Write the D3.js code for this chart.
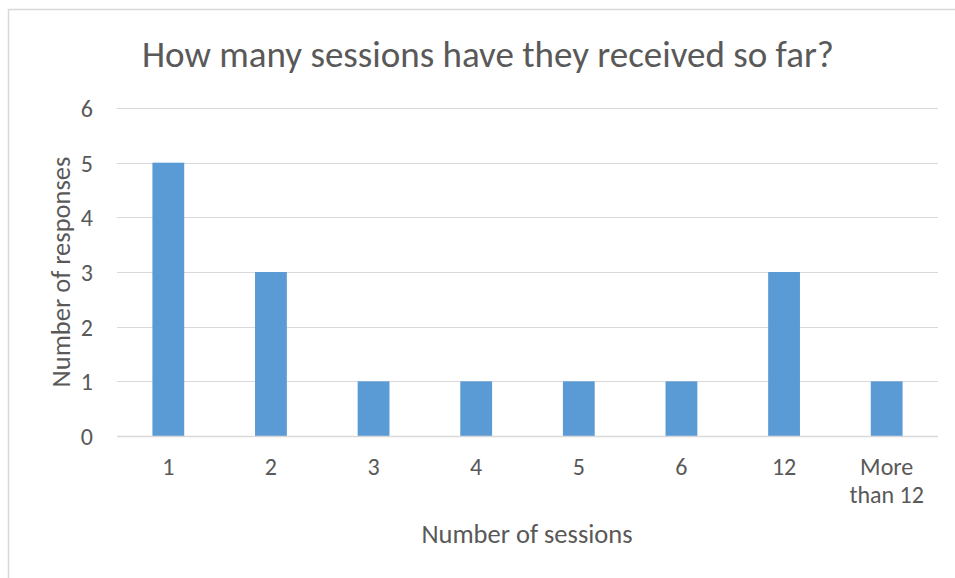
<!DOCTYPE html>
<html>
<head>
<meta charset="utf-8">
<script src="https://cdn.jsdelivr.net/npm/d3@7"></script>
<style>
  html, body { margin: 0; padding: 0; background: #fff; }
  svg { display: block; }
  text { font-family: Carlito, Calibri, "Open Sans", "Noto Sans", sans-serif; fill: #595959; }
</style>
</head>
<body>
<svg id="chart" width="955" height="578"></svg>
<script>
const categories = ["1", "2", "3", "4", "5", "6", "12", "More than 12"];
const responses = [5, 3, 1, 1, 1, 1, 3, 1];
const yTicks = [0, 1, 2, 3, 4, 5, 6];
const chartTitle = "How many sessions have they received so far?";
const xTitle = "Number of sessions";
const yTitle = "Number of responses";

const svg = d3.select("#chart");
const W = 955, H = 578;
const plot = { left: 117, right: 938, top: 108, bottom: 436 };
const FONT = "Carlito, Calibri, 'Open Sans', sans-serif";

// chart frame
svg.append("rect")
  .attr("x", 8.5).attr("y", 9.5)
  .attr("width", W + 10).attr("height", H + 10)
  .attr("fill", "#fff").attr("stroke", "#d9d9d9").attr("stroke-width", 1.5);

const x = d3.scaleBand().domain(categories).range([plot.left, plot.right]).paddingInner(0.69).paddingOuter(0.345);
const y = d3.scaleLinear().domain([0, 6]).range([plot.bottom, plot.top]);

// horizontal gridlines
svg.append("g").selectAll("line").data(yTicks.filter(d => d > 0)).join("line")
  .attr("x1", plot.left).attr("x2", plot.right)
  .attr("y1", d => Math.round(y(d)) + 0.5).attr("y2", d => Math.round(y(d)) + 0.5)
  .attr("stroke", "#d9d9d9").attr("stroke-width", 1);

// bars
svg.append("g").selectAll("rect").data(categories).join("rect")
  .attr("x", d => x(d))
  .attr("width", x.bandwidth())
  .attr("y", (d, i) => y(responses[i]))
  .attr("height", (d, i) => y(0) - y(responses[i]))
  .attr("fill", "#5b9bd5");

// baseline
svg.append("line")
  .attr("x1", plot.left).attr("x2", plot.right)
  .attr("y1", y(0) + 0.5).attr("y2", y(0) + 0.5)
  .attr("stroke", "#d9d9d9").attr("stroke-width", 1.5);

// y axis labels
const yAxis = d3.axisLeft(y).tickValues(yTicks).tickFormat(d3.format("d")).tickSize(0).tickPadding(0);
const gy = svg.append("g").attr("transform", `translate(93,0)`).call(yAxis);
gy.select(".domain").remove();
gy.selectAll("text").style("font-size", "24px").attr("fill", "#595959").attr("dy", "0.35em")
  .style("font-family", FONT);

// x axis labels
const xAxis = d3.axisBottom(x).tickSize(0).tickPadding(0);
const gx = svg.append("g").attr("transform", `translate(0,${plot.bottom})`).call(xAxis);
gx.select(".domain").remove();
gx.selectAll(".tick text").each(function(d) {
  const t = d3.select(this);
  t.text(null).attr("y", 0).attr("dy", null)
    .style("font-size", "24px").attr("fill", "#595959")
    .style("font-family", FONT);
  const lines = d === "More than 12" ? ["More", "than 12"] : [d];
  lines.forEach((ln, i) => t.append("tspan").attr("x", 0).attr("y", 39 + i * 28).text(ln));
});

// titles
svg.append("text").attr("x", 488).attr("y", 67).attr("text-anchor", "middle")
  .style("font-size", "37px").text(chartTitle);
svg.append("text").attr("x", 527).attr("y", 543).attr("text-anchor", "middle")
  .style("font-size", "26.5px").text(xTitle);
svg.append("text").attr("transform", `translate(70,272) rotate(-90)`).attr("text-anchor", "middle")
  .style("font-size", "26.5px").text(yTitle);
</script>
</body>
</html>
